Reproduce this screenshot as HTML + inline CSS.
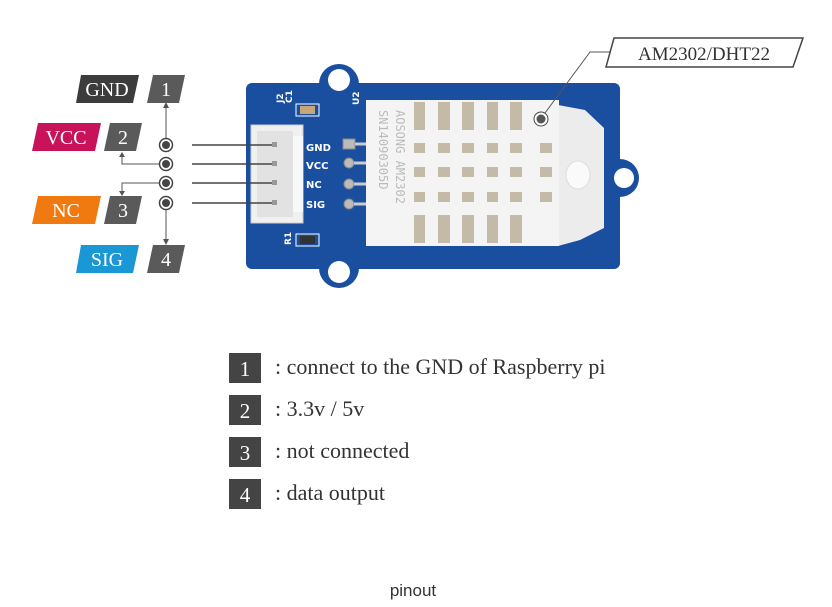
<!DOCTYPE html>
<html><head><meta charset="utf-8"><style>
html,body{margin:0;padding:0;background:#fff;width:832px;height:607px;overflow:hidden}
svg{display:block}
.s{font-family:"Liberation Serif",serif}
</style></head><body>
<svg width="832" height="607" viewBox="0 0 832 607" xmlns="http://www.w3.org/2000/svg">
<g fill="#1a4fa0">
<rect x="246" y="83" width="374" height="186" rx="6"/>
<circle cx="339" cy="84" r="20"/>
<circle cx="339" cy="268" r="20"/>
<circle cx="620" cy="178" r="19"/>
</g>
<g fill="#fff">
<circle cx="339" cy="80" r="11"/>
<circle cx="339" cy="272" r="11"/>
<circle cx="624" cy="178" r="10"/>
</g>
<g font-family="DejaVu Sans, sans-serif" font-weight="bold" font-size="10" fill="#fff">
<text x="306" y="151">GND</text>
<text x="306" y="169">VCC</text>
<text x="306" y="188">NC</text>
<text x="306" y="208">SIG</text>
<text transform="translate(283,103) rotate(-90)" font-size="9">J2</text>
<text transform="translate(292,103) rotate(-90)" font-size="9">C1</text>
<text transform="translate(359,105) rotate(-90)" font-size="9">U2</text>
<text transform="translate(291,245) rotate(-90)" font-size="9">R1</text>
</g>
<rect x="296" y="104" width="23" height="12" fill="none" stroke="#fff" stroke-width="1"/>
<rect x="300" y="106" width="15" height="8" fill="#c9a57a"/>
<rect x="296" y="234" width="23" height="12" fill="none" stroke="#fff" stroke-width="1"/>
<rect x="300" y="236" width="15" height="8" fill="#333"/>
<rect x="251" y="125" width="52" height="98" fill="#f0f0f0" stroke="#ccc"/>
<rect x="257" y="131" width="36" height="86" fill="#e2e2e2"/>
<rect x="293" y="136" width="10" height="76" fill="#f8f8f8"/>
<g fill="#bbb" stroke="#888" stroke-width="1">
<rect x="343" y="139" width="12" height="10"/>
<circle cx="349" cy="163" r="5"/>
<circle cx="349" cy="184" r="5"/>
<circle cx="349" cy="204" r="5"/>
</g>
<g stroke="#ccc" stroke-width="3"><line x1="355" y1="144" x2="368" y2="144"/><line x1="354" y1="163" x2="368" y2="163"/><line x1="354" y1="184" x2="368" y2="184"/><line x1="354" y1="204" x2="368" y2="204"/></g>
<path d="M558 105 L585 110 L604 128 L604 228 L580 240 L558 246 Z" fill="#ececec"/>
<rect x="366" y="100" width="193" height="146" fill="#f4f4f4"/>
<g fill="#c4baa8">
<rect x="414" y="102" width="11" height="28"/><rect x="438" y="102" width="12" height="28"/><rect x="462" y="102" width="12" height="28"/><rect x="487" y="102" width="11" height="28"/><rect x="510" y="102" width="12" height="28"/>
<rect x="414" y="143" width="11" height="10"/><rect x="438" y="143" width="12" height="10"/><rect x="462" y="143" width="12" height="10"/><rect x="487" y="143" width="11" height="10"/><rect x="510" y="143" width="12" height="10"/><rect x="540" y="143" width="12" height="10"/>
<rect x="414" y="167" width="11" height="10"/><rect x="438" y="167" width="12" height="10"/><rect x="462" y="167" width="12" height="10"/><rect x="487" y="167" width="11" height="10"/><rect x="510" y="167" width="12" height="10"/><rect x="540" y="167" width="12" height="10"/>
<rect x="414" y="192" width="11" height="10"/><rect x="438" y="192" width="12" height="10"/><rect x="462" y="192" width="12" height="10"/><rect x="487" y="192" width="11" height="10"/><rect x="510" y="192" width="12" height="10"/><rect x="540" y="192" width="12" height="10"/>
<rect x="414" y="215" width="11" height="28"/><rect x="438" y="215" width="12" height="28"/><rect x="462" y="215" width="12" height="28"/><rect x="487" y="215" width="11" height="28"/><rect x="510" y="215" width="12" height="28"/>
</g>
<text transform="translate(396,110) rotate(90)" font-family="DejaVu Sans Mono,monospace" font-size="12" fill="#bbb">AOSONG AM2302</text>
<text transform="translate(379,110) rotate(90)" font-family="DejaVu Sans Mono,monospace" font-size="12" fill="#bbb">SN14090305D</text>
<ellipse cx="578" cy="175" rx="12" ry="14" fill="#fafafa" stroke="#ddd"/>
<circle cx="541" cy="119" r="7" fill="#fff" stroke="#444" stroke-width="1"/>
<circle cx="541" cy="119" r="4.5" fill="#555"/>
<polyline points="545,113 590,52 612,52" fill="none" stroke="#555" stroke-width="1"/>
<polygon points="614,38 803,38 793,67 606,67" fill="#fff" stroke="#444" stroke-width="1.5"/>
<text x="704" y="60" text-anchor="middle" class="s" font-size="19" fill="#333">AM2302/DHT22</text>
<g stroke="#444" stroke-width="1.5">
<line x1="192" y1="145" x2="275" y2="145"/><line x1="192" y1="164" x2="275" y2="164"/><line x1="192" y1="183" x2="275" y2="183"/><line x1="192" y1="203" x2="275" y2="203"/>
</g>
<g fill="#999"><rect x="272" y="142" width="5" height="5"/><rect x="272" y="161" width="5" height="5"/><rect x="272" y="180" width="5" height="5"/><rect x="272" y="200" width="5" height="5"/></g>
<g stroke="#555" stroke-width="1" fill="none">
<line x1="166" y1="139" x2="166" y2="106"/>
<polyline points="160,164 122,164 122,155"/>
<polyline points="160,183 122,183 122,193"/>
<line x1="166" y1="209" x2="166" y2="242"/>
</g>
<g fill="#555">
<polygon points="166,102 163,108 169,108"/>
<polygon points="122,152 119,157 125,157"/>
<polygon points="122,196 119,191 125,191"/>
<polygon points="166,245 163,239 169,239"/>
</g>
<g fill="#fff" stroke="#444" stroke-width="1.5">
<circle cx="166" cy="145" r="6.5"/><circle cx="166" cy="164" r="6.5"/><circle cx="166" cy="183" r="6.5"/><circle cx="166" cy="203" r="6.5"/>
</g>
<g fill="#444"><circle cx="166" cy="145" r="4"/><circle cx="166" cy="164" r="4"/><circle cx="166" cy="183" r="4"/><circle cx="166" cy="203" r="4"/></g>
<g class="s" font-size="20" fill="#fff" text-anchor="middle">
<polygon points="81,75 139,75 133,103 76,103" fill="#3c3c3c"/><text x="107" y="96">GND</text>
<polygon points="153,75 185,75 179,103 147,103" fill="#5a5a5a"/><text x="166" y="96">1</text>
<polygon points="38,123 101,123 95,151 32,151" fill="#c8125a"/><text x="66" y="144">VCC</text>
<polygon points="110,123 142,123 136,151 104,151" fill="#5a5a5a"/><text x="123" y="144">2</text>
<polygon points="38,196 101,196 95,224 32,224" fill="#f07a10"/><text x="66" y="217">NC</text>
<polygon points="110,196 142,196 136,224 104,224" fill="#5a5a5a"/><text x="123" y="217">3</text>
<polygon points="81,245 139,245 133,273 76,273" fill="#1a97d5"/><text x="107" y="266">SIG</text>
<polygon points="153,245 185,245 179,273 147,273" fill="#5a5a5a"/><text x="166" y="266">4</text>
</g>
<g fill="#444">
<rect x="229" y="353" width="32" height="30"/><rect x="229" y="395" width="32" height="30"/><rect x="229" y="437" width="32" height="30"/><rect x="229" y="479" width="32" height="30"/>
</g>
<g class="s" font-size="21" fill="#fff" text-anchor="middle">
<text x="245" y="376">1</text><text x="245" y="418">2</text><text x="245" y="460">3</text><text x="245" y="502">4</text>
</g>
<g class="s" font-size="22" fill="#333">
<text x="275" y="374">: connect to the GND of Raspberry pi</text>
<text x="275" y="416">: 3.3v / 5v</text>
<text x="275" y="458">: not connected</text>
<text x="275" y="500">: data output</text>
</g>
<text x="413" y="596" text-anchor="middle" font-family="Liberation Sans,sans-serif" font-size="17" fill="#333">pinout</text>
</svg>
</body></html>
